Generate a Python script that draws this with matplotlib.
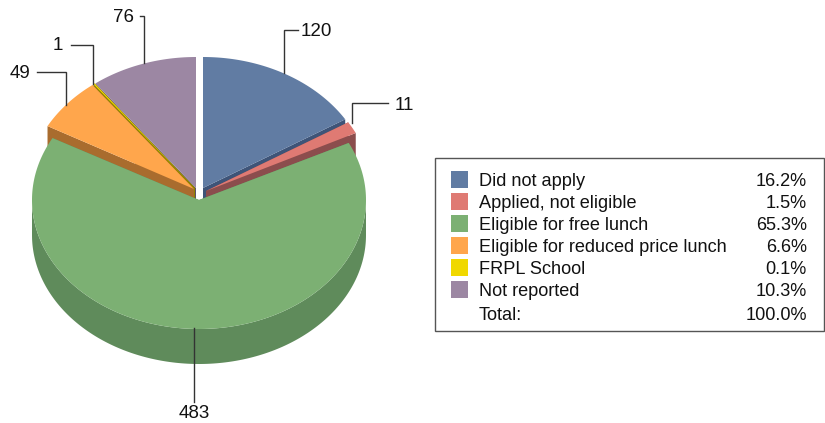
#! /usr/bin/env python3
import numpy as np
import matplotlib
matplotlib.use('Agg')
import matplotlib.pyplot as plt
from matplotlib.patches import Polygon, Rectangle

plt.rcParams['font.family'] = ['Liberation Sans', 'DejaVu Sans']

categories = ['Did not apply', 'Applied, not eligible', 'Eligible for free lunch',
              'Eligible for reduced price lunch', 'FRPL School', 'Not reported']
counts = [120, 11, 483, 49, 1, 76]
percents = ['16.2%', '1.5%', '65.3%', '6.6%', '0.1%', '10.3%']
total_label = 'Total:'
total_percent = '100.0%'

top_colors = ['#617CA3', '#DF7A73', '#7CB073', '#FFA64C', '#F0D800', '#9C87A3']
wall_colors = ['#3E5478', '#8B4D4D', '#5F8B5B', '#A96C2E', '#8F8200', '#5F5268']

# apex of each slice in pixels, the pie is slightly exploded
apexes = [(203, 188), (206, 191), (199, 200), (194, 189), (195, 188), (196, 188)]
radii_y = [131, 131, 129, 131, 131, 131]
rx = 167
depth = 35

fig = plt.figure(figsize=(8.25, 4.23), dpi=100)
ax = fig.add_axes([0, 0, 1, 1])
ax.set_xlim(0, 825)
ax.set_ylim(423, 0)
ax.axis('off')


def arc(apex, ry, a0, a1):
    a = np.radians(np.linspace(a0, a1, max(int(abs(a1 - a0)), 2) + 1))
    return np.column_stack([apex[0] + rx * np.sin(a), apex[1] - ry * np.cos(a)])


angles = np.concatenate([[0], np.cumsum(counts) / sum(counts) * 360])


def draw_slice(i):
    apex = apexes[i]
    ry = radii_y[i]
    a0, a1 = angles[i], angles[i + 1]
    shift = np.array([0, depth])
    # radial side faces
    for a in (a0, a1):
        p = arc(apex, ry, a, a + 0.01)[0]
        side = np.array([apex, p, p + shift, np.array(apex) + shift])
        ax.add_patch(Polygon(side, closed=True, fc=wall_colors[i], ec='none'))
    # outer wall, only the part facing the viewer
    lo, hi = max(a0, 90), min(a1, 270)
    if hi > lo:
        edge = arc(apex, ry, lo, hi)
        wall = np.vstack([edge, edge[::-1] + shift])
        ax.add_patch(Polygon(wall, closed=True, fc=wall_colors[i], ec='none'))
    top = np.vstack([[apex], arc(apex, ry, a0, a1)])
    ax.add_patch(Polygon(top, closed=True, fc=top_colors[i], ec='none'))


for i in [5, 4, 3, 0, 1, 2]:
    draw_slice(i)

# leader lines with the counts
leaders = [
    ([(284, 73), (284, 30), (298, 30)], 301, 32, 'left'),
    ([(352, 123), (352, 103), (388, 103)], 395, 105, 'left'),
    ([(194, 328), (194, 402)], 194, 414, 'center'),
    ([(66, 105), (66, 72), (37, 72)], 30, 73, 'right'),
    ([(93, 84), (93, 45), (71, 45)], 63, 46, 'right'),
    ([(144, 63), (144, 16), (140, 16)], 134, 18, 'right'),
]
for (pts, tx, ty, ha), n in zip(leaders, counts):
    xs, ys = zip(*pts)
    ax.plot(xs, ys, color='#333333', lw=1.0, solid_joinstyle='miter')
    ax.text(tx, ty, str(n), ha=ha, va='center', fontsize=13.5, color='#111111')

# legend table
ax.add_patch(Rectangle((435, 158), 389, 173, fc='white', ec='#555555', lw=1.0))
row_y = [180, 202, 224, 246, 268, 290]
for y, name, pct, c in zip(row_y, categories, percents, top_colors):
    ax.add_patch(Rectangle((451, y - 9), 17, 17, fc=c, ec='none'))
    ax.text(479, y + 1, name, ha='left', va='center', fontsize=13.1, color='#111111')
    ax.text(807, y + 1, pct, ha='right', va='center', fontsize=13.1, color='#111111')
ax.text(479, 316, total_label, ha='left', va='center', fontsize=13.1, color='#111111')
ax.text(807, 316, total_percent, ha='right', va='center', fontsize=13.1, color='#111111')

fig.savefig('out.png', dpi=100)
